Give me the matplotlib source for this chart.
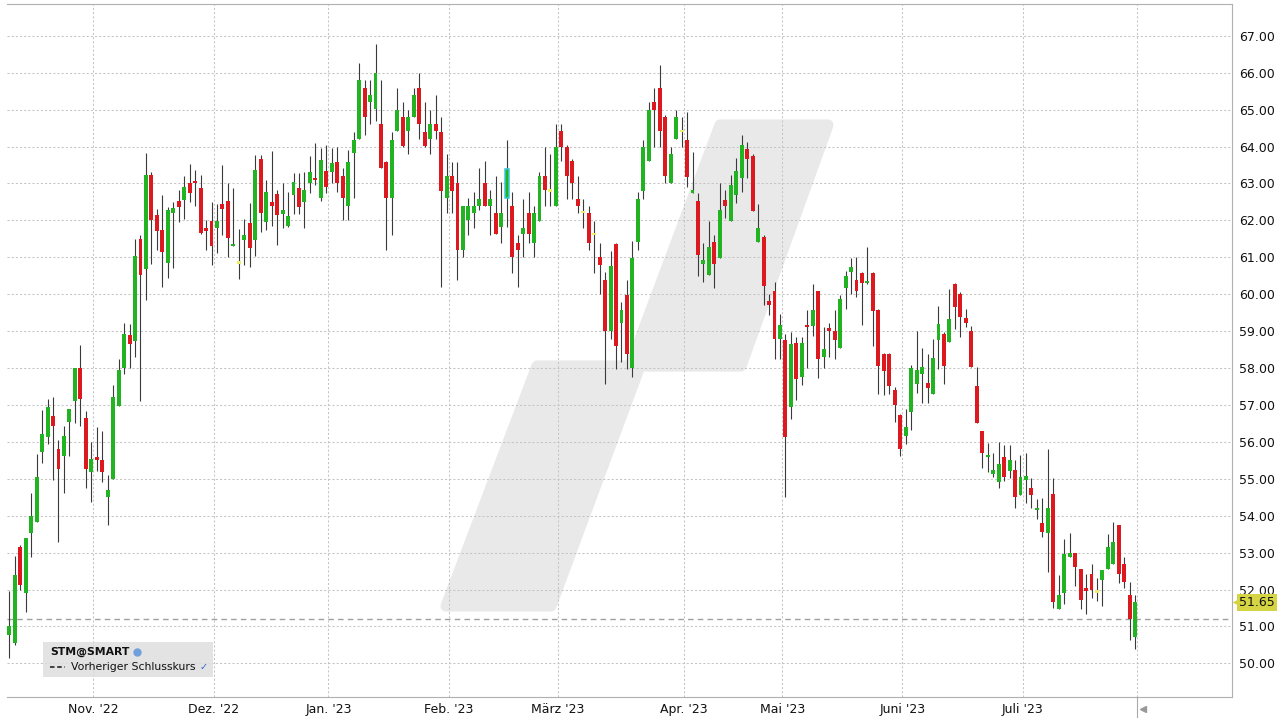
import matplotlib
matplotlib.use('Agg')
import matplotlib.pyplot as plt
import matplotlib.transforms as mtransforms
from matplotlib.patches import Polygon, Rectangle
from matplotlib.lines import Line2D
import numpy as np
import pandas as pd

# daily candles, 11.10.2022 - 01.08.2023
opens = [50.77, 50.56, 53.15, 51.92, 53.53, 53.82, 55.72, 56.13, 56.70, 55.82,
         55.61, 56.53, 57.12, 58.00, 56.65, 55.18, 55.60, 55.50, 54.52, 55.00,
         56.97, 58.00, 58.90, 58.73, 61.50, 60.67, 63.24, 62.14, 61.75, 60.85,
         62.20, 62.52, 62.54, 63.00, 63.04, 62.88, 61.80, 61.98, 61.78, 62.43,
         62.52, 61.30, 60.83, 61.48, 61.93, 61.48, 63.67, 61.96, 62.49, 62.72,
         62.16, 61.86, 62.69, 62.88, 62.51, 63.00, 63.14, 62.60, 63.34, 63.32,
         63.59, 63.20, 62.40, 63.82, 64.20, 65.59, 65.21, 65.02, 64.60, 63.59,
         62.60, 64.42, 64.81, 64.42, 64.81, 65.59, 64.40, 64.20, 64.60, 64.40,
         62.60, 63.20, 63.00, 61.20, 62.01, 62.21, 62.39, 63.00, 62.39, 62.19,
         61.83, 62.60, 62.39, 61.38, 61.62, 62.19, 61.39, 61.99, 63.21, 62.78,
         62.39, 64.41, 64.00, 63.60, 62.58, 62.19, 62.19, 61.60, 61.00, 60.39,
         58.99, 61.36, 59.21, 59.99, 58.00, 61.41, 62.80, 63.61, 65.20, 65.59,
         64.81, 63.00, 64.20, 64.38, 64.18, 62.75, 62.53, 60.81, 60.52, 61.41,
         60.97, 62.55, 61.97, 62.69, 63.16, 63.93, 63.73, 61.41, 61.56, 59.82,
         60.10, 58.79, 58.75, 56.95, 58.68, 57.76, 59.13, 59.15, 60.08, 58.30,
         59.08, 58.99, 58.55, 60.16, 60.59, 60.39, 60.58, 60.31, 60.58, 59.58,
         58.37, 58.37, 57.40, 56.72, 56.16, 56.81, 57.56, 57.85, 57.59, 57.31,
         58.75, 58.93, 58.70, 60.28, 60.00, 59.35, 59.01, 57.50, 56.29, 55.58,
         55.13, 54.92, 55.58, 55.22, 55.24, 54.56, 54.96, 54.74, 54.15, 53.79,
         53.52, 54.58, 51.48, 51.91, 52.87, 53.00, 52.57, 52.03, 52.43, 51.92,
         52.27, 52.57, 52.70, 53.74, 52.69, 51.84, 50.71]
highs = [51.95, 52.92, 53.20, 53.40, 54.61, 55.68, 56.85, 57.17, 57.22, 56.06,
         56.42, 56.90, 58.01, 58.62, 56.83, 56.00, 56.40, 56.30, 55.10, 57.55,
         58.25, 59.21, 59.20, 61.50, 61.60, 63.82, 63.30, 62.32, 62.68, 62.36,
         62.50, 62.83, 63.19, 63.53, 63.37, 63.24, 62.00, 62.50, 62.45, 63.49,
         63.00, 62.88, 61.77, 62.05, 62.47, 63.76, 63.78, 63.10, 63.87, 62.83,
         63.00, 62.77, 63.28, 63.28, 63.32, 63.75, 64.09, 63.95, 64.04, 63.95,
         64.00, 63.41, 63.90, 64.40, 66.25, 65.80, 65.80, 66.79, 65.80, 63.60,
         64.40, 65.59, 65.21, 64.99, 65.59, 66.00, 65.21, 64.99, 65.40, 64.81,
         63.79, 63.59, 63.59, 62.40, 62.60, 62.78, 63.41, 63.60, 62.83, 63.21,
         63.03, 64.18, 62.78, 61.60, 62.58, 62.78, 62.39, 63.30, 64.00, 63.80,
         64.61, 64.61, 64.05, 63.65, 63.21, 62.58, 62.39, 61.99, 61.38, 60.60,
         61.18, 61.39, 59.78, 60.38, 61.45, 62.78, 64.18, 65.20, 65.59, 66.20,
         64.85, 64.00, 65.00, 64.81, 64.94, 63.84, 62.73, 61.38, 61.97, 61.60,
         63.00, 62.82, 63.23, 63.68, 64.31, 64.11, 63.80, 62.43, 61.60, 60.00,
         60.34, 59.47, 58.93, 58.97, 58.84, 58.84, 59.58, 60.28, 60.10, 59.11,
         59.23, 59.58, 59.99, 60.62, 60.98, 61.02, 60.60, 61.27, 60.60, 59.60,
         58.40, 58.40, 57.49, 56.75, 56.88, 58.07, 58.99, 58.55, 58.37, 58.79,
         59.67, 58.97, 60.14, 60.30, 60.05, 59.59, 59.14, 58.02, 56.30, 55.96,
         55.69, 56.00, 55.91, 55.91, 55.52, 55.64, 55.69, 55.01, 54.44, 54.49,
         55.80, 55.01, 52.39, 53.38, 53.54, 53.00, 52.57, 52.43, 52.69, 52.30,
         52.52, 53.50, 53.83, 53.74, 52.87, 52.21, 51.84]
lows = [50.14, 50.50, 52.00, 51.38, 52.88, 53.82, 55.43, 55.95, 54.98, 53.30,
        54.61, 55.61, 56.50, 56.44, 54.75, 54.36, 55.20, 54.90, 53.74, 55.00,
        56.97, 57.85, 58.00, 58.30, 57.10, 59.84, 60.83, 61.21, 60.20, 60.45,
        60.70, 61.96, 62.03, 62.50, 62.40, 61.62, 61.20, 60.80, 61.12, 61.60,
        61.00, 61.30, 60.40, 60.78, 60.75, 61.03, 61.68, 61.75, 61.86, 61.33,
        61.80, 61.82, 62.16, 62.16, 61.80, 62.73, 62.96, 62.53, 62.73, 63.00,
        62.78, 62.01, 62.01, 62.60, 64.20, 64.31, 64.60, 64.69, 63.43, 61.20,
        61.60, 64.42, 64.00, 63.79, 64.81, 64.20, 64.00, 63.79, 64.20, 60.20,
        62.19, 62.19, 60.39, 61.00, 61.60, 61.78, 62.28, 62.39, 61.60, 61.62,
        61.38, 61.83, 60.58, 60.20, 61.01, 61.38, 61.01, 61.99, 62.39, 62.39,
        62.39, 63.60, 62.58, 62.58, 62.19, 61.78, 61.20, 60.58, 60.00, 57.57,
        58.79, 57.97, 58.16, 57.97, 57.77, 61.20, 62.58, 63.61, 64.00, 64.00,
        63.00, 63.00, 64.20, 64.00, 62.91, 62.74, 60.50, 60.34, 60.52, 60.16,
        60.97, 62.06, 61.97, 62.46, 62.78, 63.16, 62.25, 61.41, 59.71, 59.45,
        58.25, 58.25, 54.52, 56.63, 57.13, 57.53, 58.00, 58.88, 57.73, 58.00,
        58.30, 58.25, 58.55, 59.60, 60.00, 59.92, 59.17, 60.28, 58.59, 57.29,
        57.26, 57.29, 56.54, 55.61, 55.95, 56.33, 57.33, 57.06, 57.06, 57.31,
        57.98, 57.58, 58.70, 59.06, 58.85, 59.10, 58.02, 56.52, 55.28, 55.19,
        55.05, 54.74, 54.95, 55.01, 54.22, 54.56, 54.35, 54.22, 53.92, 53.43,
        52.48, 51.51, 51.48, 51.62, 52.87, 52.09, 51.48, 51.33, 51.78, 51.69,
        51.55, 52.57, 52.70, 52.18, 52.05, 50.64, 50.40]
closes = [51.00, 52.40, 52.13, 53.40, 54.00, 55.05, 56.20, 56.95, 56.42, 55.27,
          56.17, 56.90, 58.01, 57.17, 55.27, 55.54, 55.52, 55.18, 54.70, 57.22,
          57.96, 58.91, 58.64, 61.03, 60.51, 63.24, 62.00, 61.71, 61.14, 62.27,
          62.33, 62.36, 62.90, 62.74, 63.01, 61.66, 61.72, 61.30, 61.98, 62.32,
          61.52, 61.37, 60.83, 61.60, 61.26, 63.37, 62.20, 62.77, 62.40, 62.15,
          62.27, 62.13, 63.04, 62.36, 62.82, 63.30, 63.08, 63.64, 62.91, 63.55,
          63.02, 62.60, 63.59, 64.18, 65.80, 64.81, 65.40, 66.00, 63.43, 62.60,
          64.18, 64.99, 64.01, 64.81, 65.40, 64.61, 64.01, 64.60, 64.42, 62.80,
          63.20, 62.80, 61.20, 62.40, 62.39, 62.39, 62.58, 62.39, 62.58, 61.62,
          62.19, 63.39, 61.01, 61.21, 61.80, 61.62, 62.19, 63.21, 62.81, 62.78,
          64.00, 64.00, 63.21, 63.00, 62.39, 62.19, 61.39, 61.60, 60.80, 58.99,
          60.77, 58.61, 59.57, 58.38, 60.98, 62.58, 64.00, 65.00, 65.00, 64.42,
          63.21, 63.80, 64.81, 64.38, 63.18, 62.78, 61.06, 60.93, 61.27, 60.81,
          62.28, 62.40, 62.96, 63.34, 64.04, 63.66, 62.25, 61.80, 60.22, 59.70,
          58.79, 59.17, 56.12, 58.64, 57.69, 58.68, 59.10, 59.58, 58.25, 58.52,
          58.99, 58.75, 59.87, 60.48, 60.73, 60.10, 60.31, 60.34, 59.54, 58.05,
          57.91, 57.51, 57.01, 55.82, 56.39, 58.01, 57.94, 58.04, 57.46, 58.28,
          59.18, 58.05, 59.33, 59.65, 59.38, 59.23, 58.02, 56.52, 55.71, 55.64,
          55.24, 55.40, 55.05, 55.52, 54.51, 55.05, 55.08, 54.56, 54.17, 53.56,
          54.22, 51.66, 51.84, 52.96, 53.00, 52.60, 51.73, 51.96, 52.00, 51.92,
          52.52, 53.16, 53.29, 52.41, 52.21, 51.21, 51.65]

prev_close = 51.21
last_price = 51.65
hover_idx = 91
holidays = ['2022-12-26', '2023-04-07', '2023-04-10', '2023-05-01']
month_names = {11: 'Nov.', 12: 'Dez.', 1: 'Jan.', 2: 'Feb.', 3: 'März',
               4: 'Apr.', 5: 'Mai', 6: 'Juni', 7: 'Juli', 8: ''}

dates = pd.bdate_range('2022-10-11', '2023-08-01', freq='C', holidays=holidays)
o = np.array(opens); h = np.array(highs); l = np.array(lows); c = np.array(closes)
x = np.arange(len(o))

W, H = 1280, 720
fig = plt.figure(figsize=(12.8, 7.2), dpi=100)
ax = fig.add_axes([7/W, 1-697/H, (1232-7)/W, (697-4)/H])

def fpx(xp, yp):
    return (xp/W, 1-yp/H)

# watermark logo (thick round edge gives the soft corners)
wm = [fpx(446, 606), fpx(551, 606), fpx(640, 366), fpx(741, 366),
      fpx(828, 125), fpx(720, 125), fpx(630, 366), fpx(537, 366)]
ax.add_patch(Polygon(wm, closed=True, transform=fig.transFigure, fc='#e9e9e9',
                     ec='#e9e9e9', lw=8, joinstyle='round', zorder=0.5))

# grid
for v in range(50, 68):
    ax.axhline(v, color='#c4c4c4', lw=0.75, ls=(0, (2, 2)), zorder=1)
month_start = [i for i in range(1, len(dates)) if dates[i].month != dates[i-1].month]
tick_pos = [i + 0.4 for i in month_start]
tick_lab = []
for i in month_start:
    m = month_names[dates[i].month]
    tick_lab.append(f"{m} '{dates[i].strftime('%y')}" if m else '')
for t in tick_pos:
    ax.axvline(t, color='#c4c4c4', lw=0.75, ls=(0, (2, 2)), zorder=1)

ax.axhline(prev_close, color='#a0a0a0', lw=1.0, ls=(0, (4, 3)), zorder=2)

# candles
cols = np.where(c > o, '#21b321', np.where(c < o, '#dd1920', '#eeee66'))
ax.vlines(x, l, h, color='#3a3a3a', lw=0.8, zorder=3)
bot = np.minimum(o, c)
hgt = np.maximum(np.abs(c - o), 0.06)
ax.bar(x, hgt, bottom=bot, width=0.72, color=cols, linewidth=0, zorder=4)
ax.bar(x[hover_idx], hgt[hover_idx], bottom=bot[hover_idx], width=0.72, fill=False,
       edgecolor='#3cc8d8', lw=1.1, zorder=5)

ax.set_xlim(-0.42, 223.7)
ax.set_ylim(49.09, 67.86)

ax.set_xticks(tick_pos)
ax.set_xticklabels(tick_lab)
ax.set_yticks(range(50, 68))
ax.set_yticklabels([f'{v:.2f}' for v in range(50, 68)])
ax.yaxis.tick_right()
ax.tick_params(axis='both', length=0, labelsize=9, labelcolor='#111111')
ax.tick_params(axis='y', pad=5)
ax.tick_params(axis='x', pad=4)
ax.spines['left'].set_visible(False)
for s in ['top', 'right', 'bottom']:
    ax.spines[s].set_color('#b0b0b0')
    ax.spines[s].set_linewidth(0.8)

# last price tag
trans = mtransforms.blended_transform_factory(ax.transAxes, ax.transData)
ax.text(1 + 7/1225, last_price, f'{last_price:.2f}', transform=trans, va='center',
        ha='left', fontsize=9, color='#111111', clip_on=False, zorder=10,
        bbox=dict(boxstyle='square,pad=0.15', fc='#d4d444', ec='none'))
ax.plot([1 + 3/1225], [last_price], marker='<', ms=5, color='#d4d444', mec='none',
        transform=trans, clip_on=False, zorder=10)

# legend box
fig.add_artist(Rectangle(fpx(43, 677), 170/W, 35/H, transform=fig.transFigure,
                         fc='#dedede', ec='none', alpha=0.85))
fig.text(50/W, 1-652/H, 'STM@SMART', fontsize=7.8, fontweight='bold', color='#111111', va='center')
fig.add_artist(Line2D([137/W], [1-652/H], marker='o', ms=5, color='#6f9fdc',
                      transform=fig.transFigure))
fig.add_artist(Line2D([50/W, 65/W], [1-667/H, 1-667/H], ls=(0, (2.5, 1.5)), lw=1.3,
                      color='#333333', transform=fig.transFigure))
fig.text(71/W, 1-667/H, 'Vorheriger Schlusskurs', fontsize=7.8, color='#111111', va='center')
fig.text(200/W, 1-667/H, '\u2713', fontsize=7, color='#3366cc', va='center')

# marker below the last candle
fig.add_artist(Line2D([1137/W, 1137/W], [1-697/H, 1-717/H], color='#aaaaaa', lw=0.8,
                      transform=fig.transFigure))
fig.add_artist(Line2D([1143/W], [1-709/H], marker='<', ms=4, color='#999999',
                      transform=fig.transFigure))

fig.savefig('out.png', dpi=100)
